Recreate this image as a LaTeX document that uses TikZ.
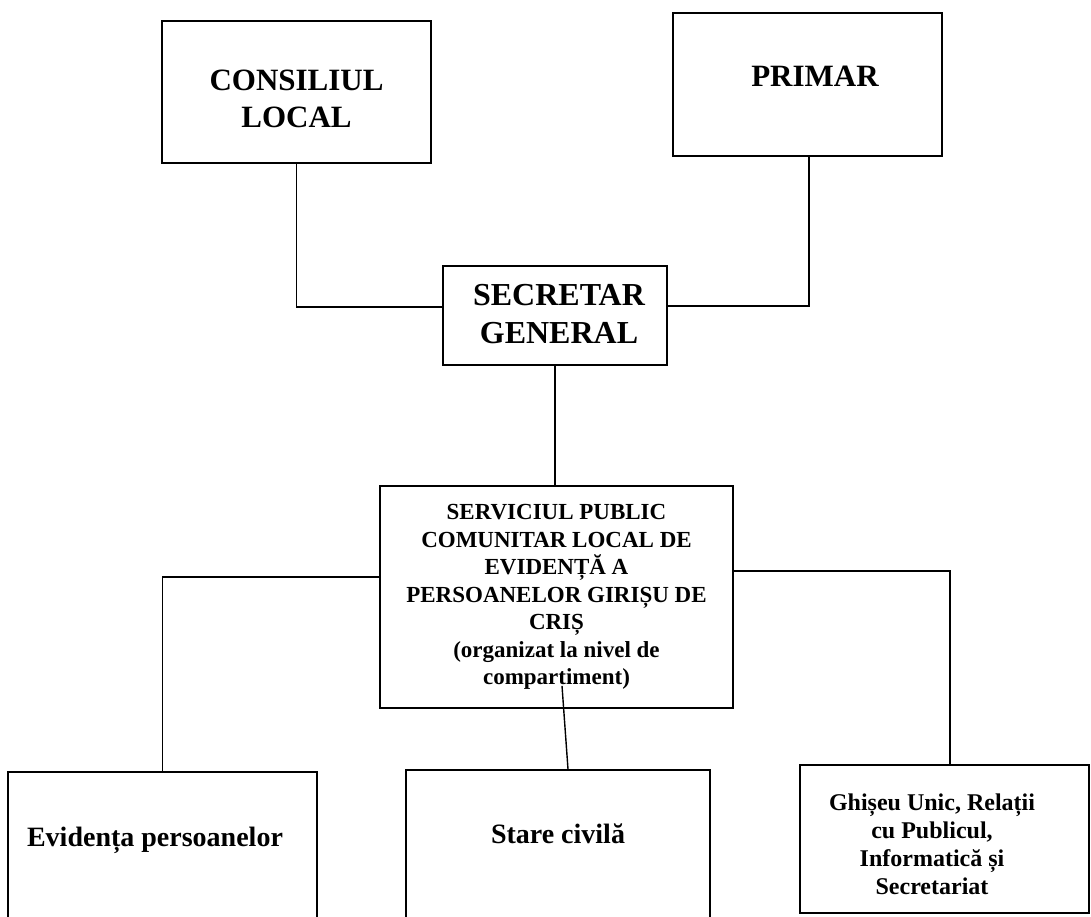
\documentclass[tikz,border=0pt]{standalone}
\usepackage{fontspec}
\setmainfont{Liberation Serif}
\tikzset{
  unit/.style={draw, line width=1.6pt, inner sep=0pt},
  link/.style={line width=1.4pt},
  big/.style={align=center, font=\bfseries\fontsize{31}{37}\selectfont},
  mid/.style={align=center, font=\bfseries\fontsize{23}{27.5}\selectfont},
  low/.style={align=center, font=\bfseries\fontsize{28}{30}\selectfont}
}
\begin{document}
\begin{tikzpicture}[x=1pt,y=-1pt]
  \useasboundingbox (0,0) rectangle (1091,916);
  % top row
  \node[unit, minimum width=269pt, minimum height=142pt] (cl) at (296.5,92) {};
  \node[big] (clT) at (296.5,99) {CONSILIUL\\LOCAL};
  \node[unit, minimum width=269pt, minimum height=143pt] (pr) at (807.5,84.5) {};
  \node[big] (prT) at (815,76.5) {PRIMAR};
  % secretar
  \node[unit, minimum width=224pt, minimum height=99pt] (sg) at (555,315.5) {};
  \node[big, font=\bfseries\fontsize{32}{38}\selectfont] (sgT) at (559,314) {SECRETAR\\GENERAL};
  % serviciul
  \node[unit, minimum width=353pt, minimum height=222pt] (sp) at (556.5,597) {};
  \node[mid] (spT) at (556.5,597) {SERVICIUL PUBLIC\\COMUNITAR LOCAL DE\\EVIDENȚĂ A\\PERSOANELOR GIRIȘU DE\\CRIȘ\\(organizat la nivel de\\compartiment)};
  % bottom row
  \node[unit, minimum width=309pt, minimum height=150pt] (ep) at (162.5,847) {};
  \node[low] (epT) at (155,840) {Evidența persoanelor};
  \node[unit, minimum width=304pt, minimum height=152pt] (sc) at (558,846) {};
  \node[low] (scT) at (558,834) {Stare civilă};
  \node[unit, minimum width=289pt, minimum height=148pt] (gu) at (944.5,839) {};
  \node[low, font=\bfseries\fontsize{24}{28}\selectfont] (guT) at (932,844) {Ghișeu Unic, Relații\\cu Publicul,\\Informatică și\\Secretariat};
  % connectors
  \draw[link] (cl.south) |- ([yshift=8.5pt]sg.west);
  \draw[link] ([xshift=1.5pt]pr.south) |- ([yshift=9.5pt]sg.east);
  \draw[link] (sg.south) -- (sg.south |- sp.north);
  \draw[link] ([yshift=20pt]sp.west) -| (ep.north);
  \draw[link] ([yshift=26pt]sp.east) -| ([xshift=5.5pt]gu.north);
  \draw[link] ([xshift=5.5pt,yshift=23pt]sp.south) -- ([xshift=10pt]sc.north);
\end{tikzpicture}
\end{document}
